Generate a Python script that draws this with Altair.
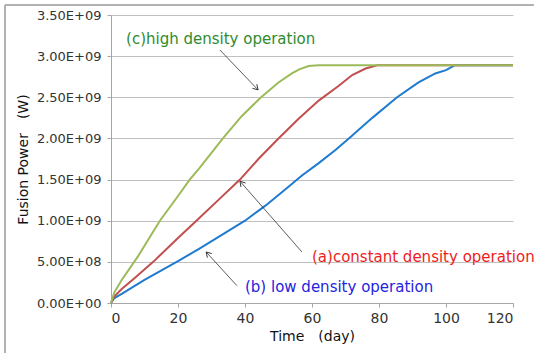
import altair as alt
import pandas as pd

# ---- data ----
series_names = ["(b) low density", "(a) constant density", "(c) high density"]
series_colors = ["#1f7bd0", "#c0504d", "#9bbb59"]

t_b = [0, 1, 3.2, 10, 20, 26.4, 32, 40, 46, 52, 57, 62, 67, 71, 78, 85.4, 91.8, 96.8, 100, 102.7, 120]
p_b = [0, 0.06, 0.11, 0.28, 0.51, 0.66, 0.80, 1.00, 1.18, 1.38, 1.55, 1.70, 1.86, 2.00, 2.25, 2.50, 2.68, 2.79, 2.83, 2.89, 2.89]

t_a = [0, 1, 3.2, 7, 12.6, 20, 25.5, 32, 38.5, 44, 50, 56, 62, 68, 72, 76, 79.5, 120]
p_a = [0, 0.08, 0.17, 0.30, 0.50, 0.79, 1.00, 1.25, 1.50, 1.75, 2.00, 2.24, 2.46, 2.64, 2.77, 2.85, 2.89, 2.89]

t_c = [0, 1, 3.2, 8.1, 14.6, 20, 23.5, 26.4, 33.4, 39, 44.8, 50, 54, 56.2, 59, 62, 120]
p_c = [0, 0.13, 0.28, 0.57, 1.00, 1.30, 1.50, 1.64, 2.00, 2.27, 2.50, 2.68, 2.79, 2.84, 2.88, 2.89, 2.89]

x_ticks = [0, 20, 40, 60, 80, 100, 120]
y_ticks = [0, 0.5e9, 1.0e9, 1.5e9, 2.0e9, 2.5e9, 3.0e9, 3.5e9]

# annotations: label text, position (day, W), colour
ann_text = ["(c)high density operation", "(a)constant density operation", "(b) low density operation"]
ann_t = [4.5, 60.0, 40.0]
ann_p = [3.15e9, 0.50e9, 0.135e9]
ann_color = ["#2e8b2e", "#ee1c1c", "#2424e0"]

# arrows: start (t, P) -> tip (t, P), head angle (deg)
arr_t0 = [32.5, 57.0, 37.6]
arr_p0 = [3.075e9, 0.62e9, 0.21e9]
arr_t1 = [43.9, 38.5, 28.4]
arr_p1 = [2.59e9, 1.48e9, 0.62e9]
arr_angle = [136.5, 319.2, 316.8]

# ---- tables ----
rows = []
for i, (name, ts, ps) in enumerate(zip(series_names, [t_b, t_a, t_c], [p_b, p_a, p_c])):
    for t, p in zip(ts, ps):
        rows.append({"series": name, "order": i, "t": t, "P": p * 1e9})
df = pd.DataFrame(rows)

df_ann = pd.DataFrame({"text": ann_text, "t": ann_t, "P": ann_p, "c": ann_color})
df_arr = pd.DataFrame({"t0": arr_t0, "p0": arr_p0, "t1": arr_t1, "p1": arr_p1, "ang": arr_angle})

x_scale = alt.Scale(domain=[0, 120], nice=False)
y_scale = alt.Scale(domain=[0, 3.5e9], nice=False)

y_label_expr = ("datum.value == 0 ? '0.00E+00' : (datum.value < 1e9 ? "
                "format(datum.value/1e8, '.2f') + 'E+08' : format(datum.value/1e9, '.2f') + 'E+09')")

lines = alt.Chart(df).mark_line(strokeWidth=2).encode(
    x=alt.X("t:Q", scale=x_scale,
            axis=alt.Axis(values=x_ticks, title="Time\u3000(day)", grid=False,
                          tickSize=4, labelPadding=4, titlePadding=4,
                          labelFontSize=14, titleFontSize=14)),
    y=alt.Y("P:Q", scale=y_scale,
            axis=alt.Axis(values=y_ticks, title="Fusion Power\u3000(W)", grid=True,
                          labelExpr=y_label_expr, tickSize=4, labelPadding=6,
                          titlePadding=6, labelFontSize=13, titleFontSize=14)),
    color=alt.Color("series:N", scale=alt.Scale(domain=series_names, range=series_colors), legend=None),
    order=alt.Order("order:Q"),
)

texts = alt.Chart(df_ann).mark_text(align="left", baseline="alphabetic", fontSize=15,
                                    font="DejaVu Sans").encode(
    x="t:Q", y="P:Q", text="text:N", color=alt.Color("c:N", scale=None)
)

arrows = alt.Chart(df_arr).mark_rule(color="#333333", strokeWidth=0.8).encode(
    x="t0:Q", y="p0:Q", x2="t1:Q", y2="p1:Q"
)

heads = alt.Chart(df_arr).mark_point(shape="M-0.6,1L0,0L0.6,1", filled=False, size=100,
                                     color="#333333", strokeWidth=0.9, opacity=1).encode(
    x="t1:Q", y="p1:Q", angle=alt.Angle("ang:Q", scale=None)
)

border_top = alt.Chart(df_ann).mark_rule(color="#a6a6a6", strokeWidth=1).encode(
    x=alt.value(-106), x2=alt.value(430), y=alt.value(-10)
)
border_left = alt.Chart(df_ann).mark_rule(color="#a6a6a6", strokeWidth=1).encode(
    x=alt.value(-106), y=alt.value(-10), y2=alt.value(345)
)

chart = alt.layer(border_top, border_left, lines, arrows, heads, texts).properties(
    width=402, height=288,
    padding={"left": 111, "top": 15, "right": 21, "bottom": 50},
    autosize=alt.AutoSizeParams(type="none"),
    background="white",
).configure_view(stroke=None).configure_axis(
    labelFont="DejaVu Sans", titleFont="DejaVu Sans", labelColor="#333333",
    titleColor="#111111", titleFontWeight="normal",
    domainColor="#a6a6a6", tickColor="#a6a6a6", gridColor="#c0c0c0",
    domainWidth=1, gridWidth=1,
)

chart.save("out.html", embed_options={"renderer": "svg", "actions": False})
